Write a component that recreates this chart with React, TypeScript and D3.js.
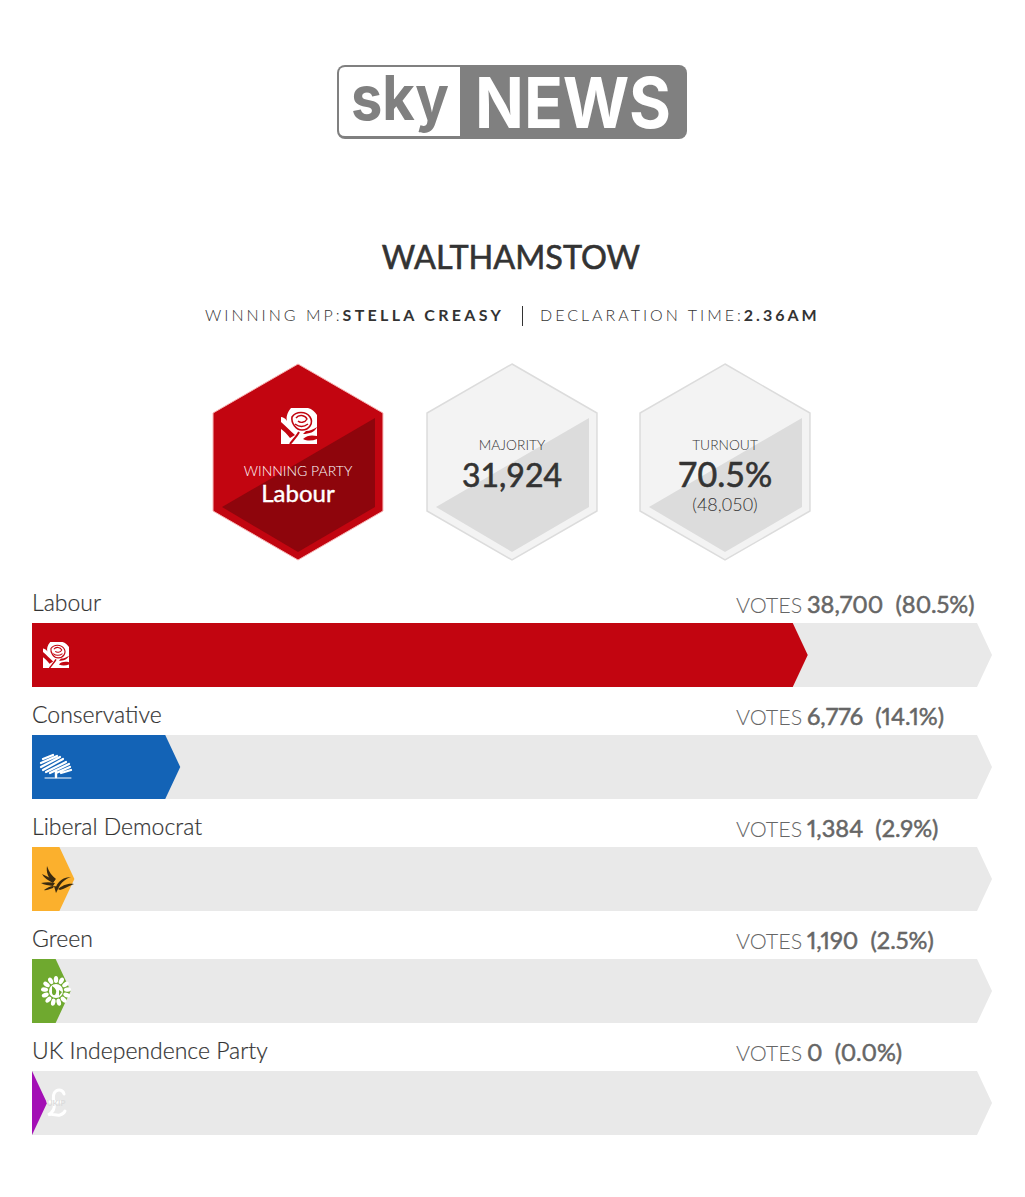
import * as d3 from 'd3'

const parties = ['Labour', 'Conservative', 'Liberal Democrat', 'Green', 'UK Independence Party']
const votes = [38700, 6776, 1384, 1190, 0]
const shares = [80.5, 14.1, 2.9, 2.5, 0.0]
const colors = ['#c20510', '#1363b6', '#fbb02d', '#6fa92f', '#a30fb5']

const FONT = 'Lato, "Open Sans", sans-serif'
const TEXT = '#333333'
const BAR_H = 64
const TIP = 15

const x = d3.scaleLinear().domain([0, 100]).range([32, 977])
const y = d3.scaleBand<string>().domain(parties).range([623, 1135]).paddingInner(48 / 112).paddingOuter(0).align(0)

const arrow = (x1: number, top: number) =>
  d3.line()([
    [32, top],
    [x1, top],
    [x1 + TIP, top + BAR_H / 2],
    [x1, top + BAR_H],
    [32, top + BAR_H],
  ]) + 'Z'

const hexPoints = (cx: number, top: number, r: number) =>
  d3.line()([
    [cx, top],
    [cx + r * 0.867, top + r / 2],
    [cx + r * 0.867, top + r * 1.5],
    [cx, top + r * 2],
    [cx - r * 0.867, top + r * 1.5],
    [cx - r * 0.867, top + r / 2],
  ]) + 'Z'

const hexShade = (cx: number) =>
  d3.line()([
    [cx + 77, 418],
    [cx + 77, 507],
    [cx, 552],
    [cx - 76, 507],
  ]) + 'Z'

// party emblems, drawn around 0,0
function Rose({ fill, size }: { fill: string; size: number }) {
  return (
    <g transform={`scale(${size / 36})`}>
      <path d="M-18,-18L18,-18L18,18L-18,18Z" fill="#fff" />
      <path d="M-18,-18L-8,-18C-12,-13 -13,-9 -12,-5C-14,-8 -16,-9 -18,-9Z" fill={fill} />
      <path d="M-18,-4C-13,0 -9,5 -4,9L-9,12C-12,8 -15,5 -18,3Z" fill={fill} />
      <path d="M18,-18L18,-11C16,-14 13,-17 9,-18Z" fill={fill} />
      <path d="M18,1C16,6 10,8 4,8L7,5C11,5 15,3 18,1Z" fill={fill} />
      <path d="M4,13C8,9 13,9 18,10L18,13C13,15 8,15 4,13Z" fill={fill} />
      <path d="M-7,-9C-3,-15 7,-15 11,-9C15,-3 10,4 3,4C-3,4 -8,-3 -7,-9Z" fill="none" stroke={fill} strokeWidth={1.6} />
      <path d="M-3,-8C0,-12 6,-11 8,-7C6,-3 1,-3 -1,-5M-4,-2C0,1 5,1 9,-2" fill="none" stroke={fill} strokeWidth={1.4} />
      <path d="M0,6C-2,10 -6,14 -9,18" fill="none" stroke={fill} strokeWidth={2} />
    </g>
  )
}

function Tree() {
  return (
    <g fill="none" stroke="#fff" strokeLinecap="round">
      <path d="M-13,-8L-3,-12M-15,-4L1,-11M-15,0L4,-10M-13,3L7,-8M-10,5L10,-5M-6,6L13,-3M0,6L14,0M5,6L15,3" strokeWidth={2.2} />
      <path d="M0,5L0,10" strokeWidth={2.4} />
      <path d="M-11,11L15,11" strokeWidth={1} />
    </g>
  )
}

function Bird() {
  return (
    <g fill="#3a2a10">
      <path d="M-3,3C-8,-1 -10,-7 -9,-13C-7,-7 -4,-3 0,0Z" />
      <path d="M-3,4C-8,1 -12,-1 -14,-5C-10,-3 -6,-1 -1,1Z" />
      <path d="M-3,7C-7,6 -12,6 -15,4C-10,3 -6,3 -1,4Z" />
      <path d="M-3,9C-7,10 -10,12 -12,11C-9,9 -6,7 -2,7Z" />
      <path d="M0,8C2,2 8,-2 15,-2C9,0 5,4 3,8Z" />
      <path d="M2,10C6,7 11,4 18,5C12,7 8,10 4,11Z" />
      <path d="M-2,7L3,8L0,14Z" />
    </g>
  )
}

function Globe() {
  const leaves = d3.range(13).map(i => (i * 360) / 13)
  return (
    <g fill="#fff">
      {leaves.map(a => (
        <ellipse key={a} cx={0} cy={-11.5} rx={2.2} ry={3.6} transform={`rotate(${a})`} />
      ))}
      <circle r={7} />
      <path d="M-4,-5C-1,-3 1,-1 0,2C-1,5 -3,5 -4,2Z M3,-1L6,1L3,5Z" fill="#6fa92f" />
    </g>
  )
}

function Pound() {
  return (
    <g>
      <path
        d="M8,-9C7,-13 3,-14 0,-12C-3,-10 -3,-5 -2,0C-1,5 -2,9 -8,12C-4,10 0,13 4,12C6,11.5 8,10 9,8M-8,-1L5,-1"
        fill="none"
        stroke="#fff"
        strokeWidth={3}
        strokeLinecap="round"
      />
      <text x={0} y={3} textAnchor="middle" fontSize={8} fontWeight={700} fill="#dcdcdc">
        UKIP
      </text>
    </g>
  )
}

const icons = [<Rose fill="#c20510" size={26} />, <Tree />, <Bird />, <Globe />, <Pound />]

export default function App() {
  const fmt = d3.format(',')
  const hexes = [
    { cx: 512, label: 'MAJORITY', big: fmt(31924), bigSize: 32, small: '' },
    { cx: 725, label: 'TURNOUT', big: '70.5%', bigSize: 34, small: `(${fmt(48050)})` },
  ]

  return (
    <svg width={1025} height={1197} style={{ position: 'absolute', left: 0, top: 0, background: '#fff' }} fontFamily={FONT}>
      {/* logo */}
      <rect x={337} y={65} width={350} height={74} rx={8} fill="#808080" />
      <path d="M460,67L345,67Q339,67 339,73L339,130Q339,136 345,136L460,136Z" fill="#fff" />
      <text x={351} y={120} fontFamily="Inter, sans-serif" fontSize={62} fontWeight={700} fill="#808080" textLength={98} lengthAdjust="spacingAndGlyphs">
        sky
      </text>
      <text x={475} y={128} fontFamily="Inter, sans-serif" fontSize={70} fontWeight={700} fill="#fff" textLength={196} lengthAdjust="spacingAndGlyphs">
        NEWS
      </text>

      <text x={511} y={269} textAnchor="middle" fontSize={32.4} fontWeight={400} fill={TEXT} stroke={TEXT} strokeWidth={0.6}>
        WALTHAMSTOW
      </text>

      <text x={205} y={321} fontSize={16} letterSpacing={3} fontWeight={300} fill={TEXT}>
        WINNING MP:<tspan fontWeight={700} letterSpacing={3.3}>STELLA CREASY</tspan>
      </text>
      <line x1={522.5} x2={522.5} y1={306} y2={326} stroke="#333" />
      <text x={540} y={321} fontSize={16} letterSpacing={3} fontWeight={300} fill={TEXT}>
        DECLARATION TIME:<tspan fontWeight={700}>2.36AM</tspan>
      </text>

      {/* winner hexagon */}
      <path d={hexPoints(298, 364, 98)} fill="#c20510" stroke="#f7b5b5" strokeWidth={1} />
      <path d={hexShade(298)} fill="#8e050c" />
      <g transform="translate(299,426)">
        <Rose fill="#c20510" size={36} />
      </g>
      <text x={298} y={476} textAnchor="middle" fontSize={14} fontWeight={300} fill="#fff">
        WINNING PARTY
      </text>
      <text x={298} y={502} textAnchor="middle" fontSize={24} fontWeight={400} fill="#fff" stroke="#fff" strokeWidth={0.4}>
        Labour
      </text>

      {/* stat hexagons */}
      {hexes.map(h => (
        <g key={h.label}>
          <path d={hexPoints(h.cx, 364, 98)} fill="#f3f3f3" stroke="#dcdcdc" strokeWidth={1.5} />
          <path d={hexShade(h.cx)} fill="#dcdcdc" />
          <text x={h.cx} y={450} textAnchor="middle" fontSize={13.8} fontWeight={300} fill={TEXT}>
            {h.label}
          </text>
          <text x={h.cx} y={487} textAnchor="middle" fontSize={h.bigSize} fontWeight={400} fill={TEXT} stroke={TEXT} strokeWidth={0.6}>
            {h.big}
          </text>
          {h.small && (
            <text x={h.cx} y={511} textAnchor="middle" fontSize={18} fontWeight={300} fill={TEXT}>
              {h.small}
            </text>
          )}
        </g>
      ))}

      {/* party bars */}
      {parties.map((p, i) => {
        const top = y(p) as number
        return (
          <g key={p}>
            <text x={32} y={top - 12} fontSize={23} fontWeight={300} fill={TEXT} stroke={TEXT} strokeWidth={0.2}>
              {p}
            </text>
            <text x={736} y={top - 10} fontSize={21.5} fontWeight={300} fill="#666">
              VOTES
              <tspan x={807} fontSize={23.6} fontWeight={400} stroke="#666" strokeWidth={0.5} style={{ fontFeatureSettings: '"pnum"' }}>
                {fmt(votes[i])}
                {'\u00a0\u00a0'}({shares[i].toFixed(1)}%)
              </tspan>
            </text>
            <path d={arrow(x(100), top)} fill="#e9e9e9" />
            <path d={arrow(x(shares[i]), top)} fill={colors[i]} />
            <g transform={`translate(56,${top + 32})`}>{icons[i]}</g>
          </g>
        )
      })}
    </svg>
  )
}
